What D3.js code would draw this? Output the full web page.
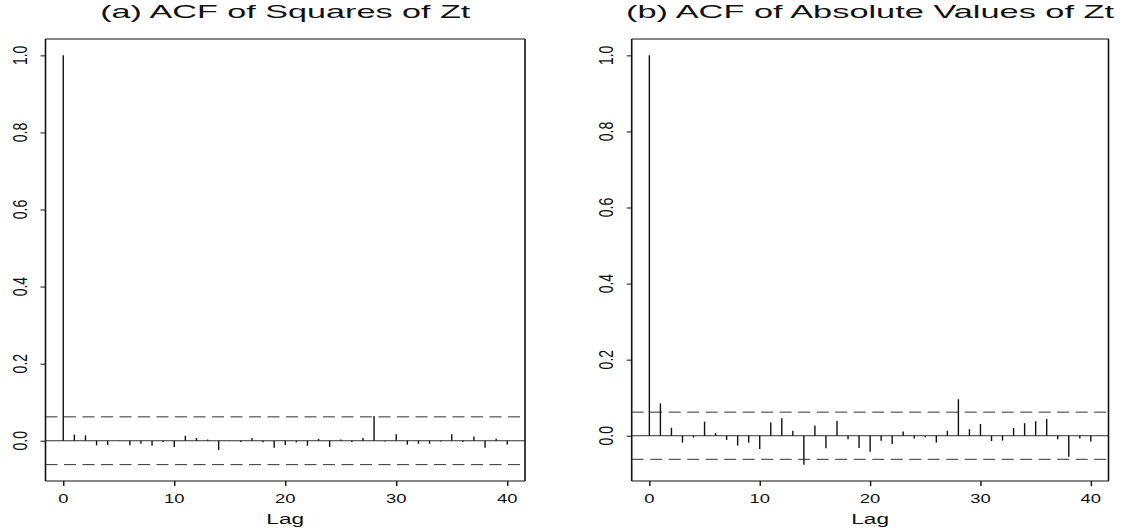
<!DOCTYPE html>
<html lang="en">
<head>
  <meta charset="UTF-8">
  <title>ACF of Zt</title>
  <script src="https://d3js.org/d3.v7.min.js"></script>
  <style>
    body { margin: 0; background: #fff; }
    svg { display: block; font-family: "Liberation Sans", Arial, sans-serif; }
    .bar { stroke: #111; stroke-width: 1.4; }
    .zero { stroke: #333; stroke-width: 1; }
    .conf { stroke: #333; stroke-width: 1; stroke-dasharray: 12 6.5; }
  </style>
</head>
<body>
<svg id="chart" width="1122" height="531"></svg>
<script>
  // lags 0..40
  const lags = d3.range(0, 41);

  // (a) ACF of squares of Zt
  const acfSquares = [1.0,
    0.016, 0.014, -0.012, -0.011, -0.001, -0.012, -0.008, -0.013, -0.003, -0.016,
    0.013, 0.007, 0.003, -0.024, -0.001, -0.003, 0.007, -0.004, -0.018, -0.011,
    -0.004, -0.013, 0.005, -0.016, 0.003, -0.003, 0.007, 0.064, -0.002, 0.017,
    -0.010, -0.008, -0.008, -0.002, 0.017, -0.003, 0.011, -0.018, 0.005, -0.010];

  // (b) ACF of absolute values of Zt
  const acfAbs = [1.0,
    0.085, 0.021, -0.018, -0.005, 0.037, 0.007, -0.011, -0.026, -0.018, -0.035,
    0.035, 0.046, 0.013, -0.076, 0.027, -0.033, 0.039, -0.009, -0.032, -0.042,
    -0.013, -0.022, 0.011, -0.007, -0.004, -0.018, 0.013, 0.096, 0.017, 0.031,
    -0.014, -0.013, 0.020, 0.033, 0.038, 0.044, -0.009, -0.055, -0.007, -0.015];

  const confBound = 0.062;
  const xTicks = [0, 10, 20, 30, 40];
  const yTicks = [0.0, 0.2, 0.4, 0.6, 0.8, 1.0];
  const titles = ["(a) ACF of Squares of Zt", "(b) ACF of Absolute Values of Zt"];

  const svg = d3.select("#chart");

  // panel boxes (pixels)
  const panels = [
    { left: 45.5, right: 525, values: acfSquares, title: titles[0], titleLen: 370 },
    { left: 631.7, right: 1108.5, values: acfAbs, title: titles[1], titleLen: 488 }
  ];
  const plotTop = 39, plotBottom = 481;

  // R-like 4% axis expansion
  function expand(lo, hi) {
    const d = (hi - lo) * 0.04;
    return [lo - d, hi + d];
  }

  panels.forEach(p => {
    const g = svg.append("g");

    const x = d3.scaleLinear()
      .domain(expand(0, 40))
      .range([p.left, p.right]);

    const yMin = Math.min(-confBound, d3.min(p.values));
    const yMax = Math.max(confBound, d3.max(p.values));
    const y = d3.scaleLinear()
      .domain(expand(yMin, yMax))
      .range([plotBottom, plotTop]);

    // zero line
    g.append("line").attr("class", "zero")
      .attr("x1", p.left).attr("x2", p.right)
      .attr("y1", y(0)).attr("y2", y(0));

    // confidence bounds
    [confBound, -confBound].forEach(c => {
      g.append("line").attr("class", "conf")
        .attr("x1", p.left).attr("x2", p.right)
        .attr("y1", y(c)).attr("y2", y(c));
    });

    // acf bars
    g.selectAll(".bar")
      .data(p.values)
      .enter()
      .append("line")
      .attr("class", "bar")
      .attr("x1", (d, i) => x(lags[i]))
      .attr("x2", (d, i) => x(lags[i]))
      .attr("y1", y(0))
      .attr("y2", d => y(d));

    // x axis
    const xa = g.append("g")
      .attr("transform", `translate(0,${plotBottom})`)
      .call(d3.axisBottom(x).tickValues(xTicks).tickSize(5).tickFormat(d3.format("d")));
    xa.select(".domain").remove();
    xa.selectAll(".tick line").attr("stroke", "#111").attr("stroke-width", 1.4);
    xa.selectAll(".tick text").remove();
    xTicks.forEach(t => {
      g.append("text")
        .attr("transform", `translate(${x(t)},502.7) scale(1.42,1)`)
        .attr("text-anchor", "middle")
        .attr("font-size", 13)
        .attr("fill", "#111")
        .text(t);
    });

    // y axis
    const ya = g.append("g")
      .attr("transform", `translate(${p.left},0)`)
      .call(d3.axisLeft(y).tickValues(yTicks).tickSize(5));
    ya.select(".domain").remove();
    ya.selectAll(".tick line").attr("stroke", "#111").attr("stroke-width", 1);
    ya.selectAll(".tick text").remove();
    yTicks.forEach(t => {
      g.append("text")
        .attr("transform", `translate(${p.left - 18.8},${y(t)}) scale(1.4,1) rotate(-90)`)
        .attr("text-anchor", "middle")
        .attr("font-size", 14)
        .attr("fill", "#111")
        .text(d3.format(".1f")(t));
    });

    // box
    g.append("line").attr("x1", p.left).attr("x2", p.left).attr("y1", plotTop).attr("y2", plotBottom)
      .attr("stroke", "#111").attr("stroke-width", 1.6);
    g.append("line").attr("x1", p.right).attr("x2", p.right).attr("y1", plotTop).attr("y2", plotBottom)
      .attr("stroke", "#111").attr("stroke-width", 1.6);
    g.append("line").attr("x1", p.left).attr("x2", p.right).attr("y1", plotTop).attr("y2", plotTop)
      .attr("stroke", "#111").attr("stroke-width", 1.1);
    g.append("line").attr("x1", p.left).attr("x2", p.right).attr("y1", plotBottom).attr("y2", plotBottom)
      .attr("stroke", "#111").attr("stroke-width", 1.1);

    // titles
    const cx = (p.left + p.right) / 2;
    g.append("text")
      .attr("x", cx).attr("y", 17.5)
      .attr("text-anchor", "middle")
      .attr("font-size", 18.6)
      .attr("textLength", p.titleLen)
      .attr("lengthAdjust", "spacingAndGlyphs")
      .attr("fill", "#111")
      .text(p.title);

    g.append("text")
      .attr("transform", `translate(${cx},524) scale(1.54,1)`)
      .attr("text-anchor", "middle")
      .attr("font-size", 14.7)
      .attr("fill", "#111")
      .text("Lag");
  });
</script>
</body>
</html>
